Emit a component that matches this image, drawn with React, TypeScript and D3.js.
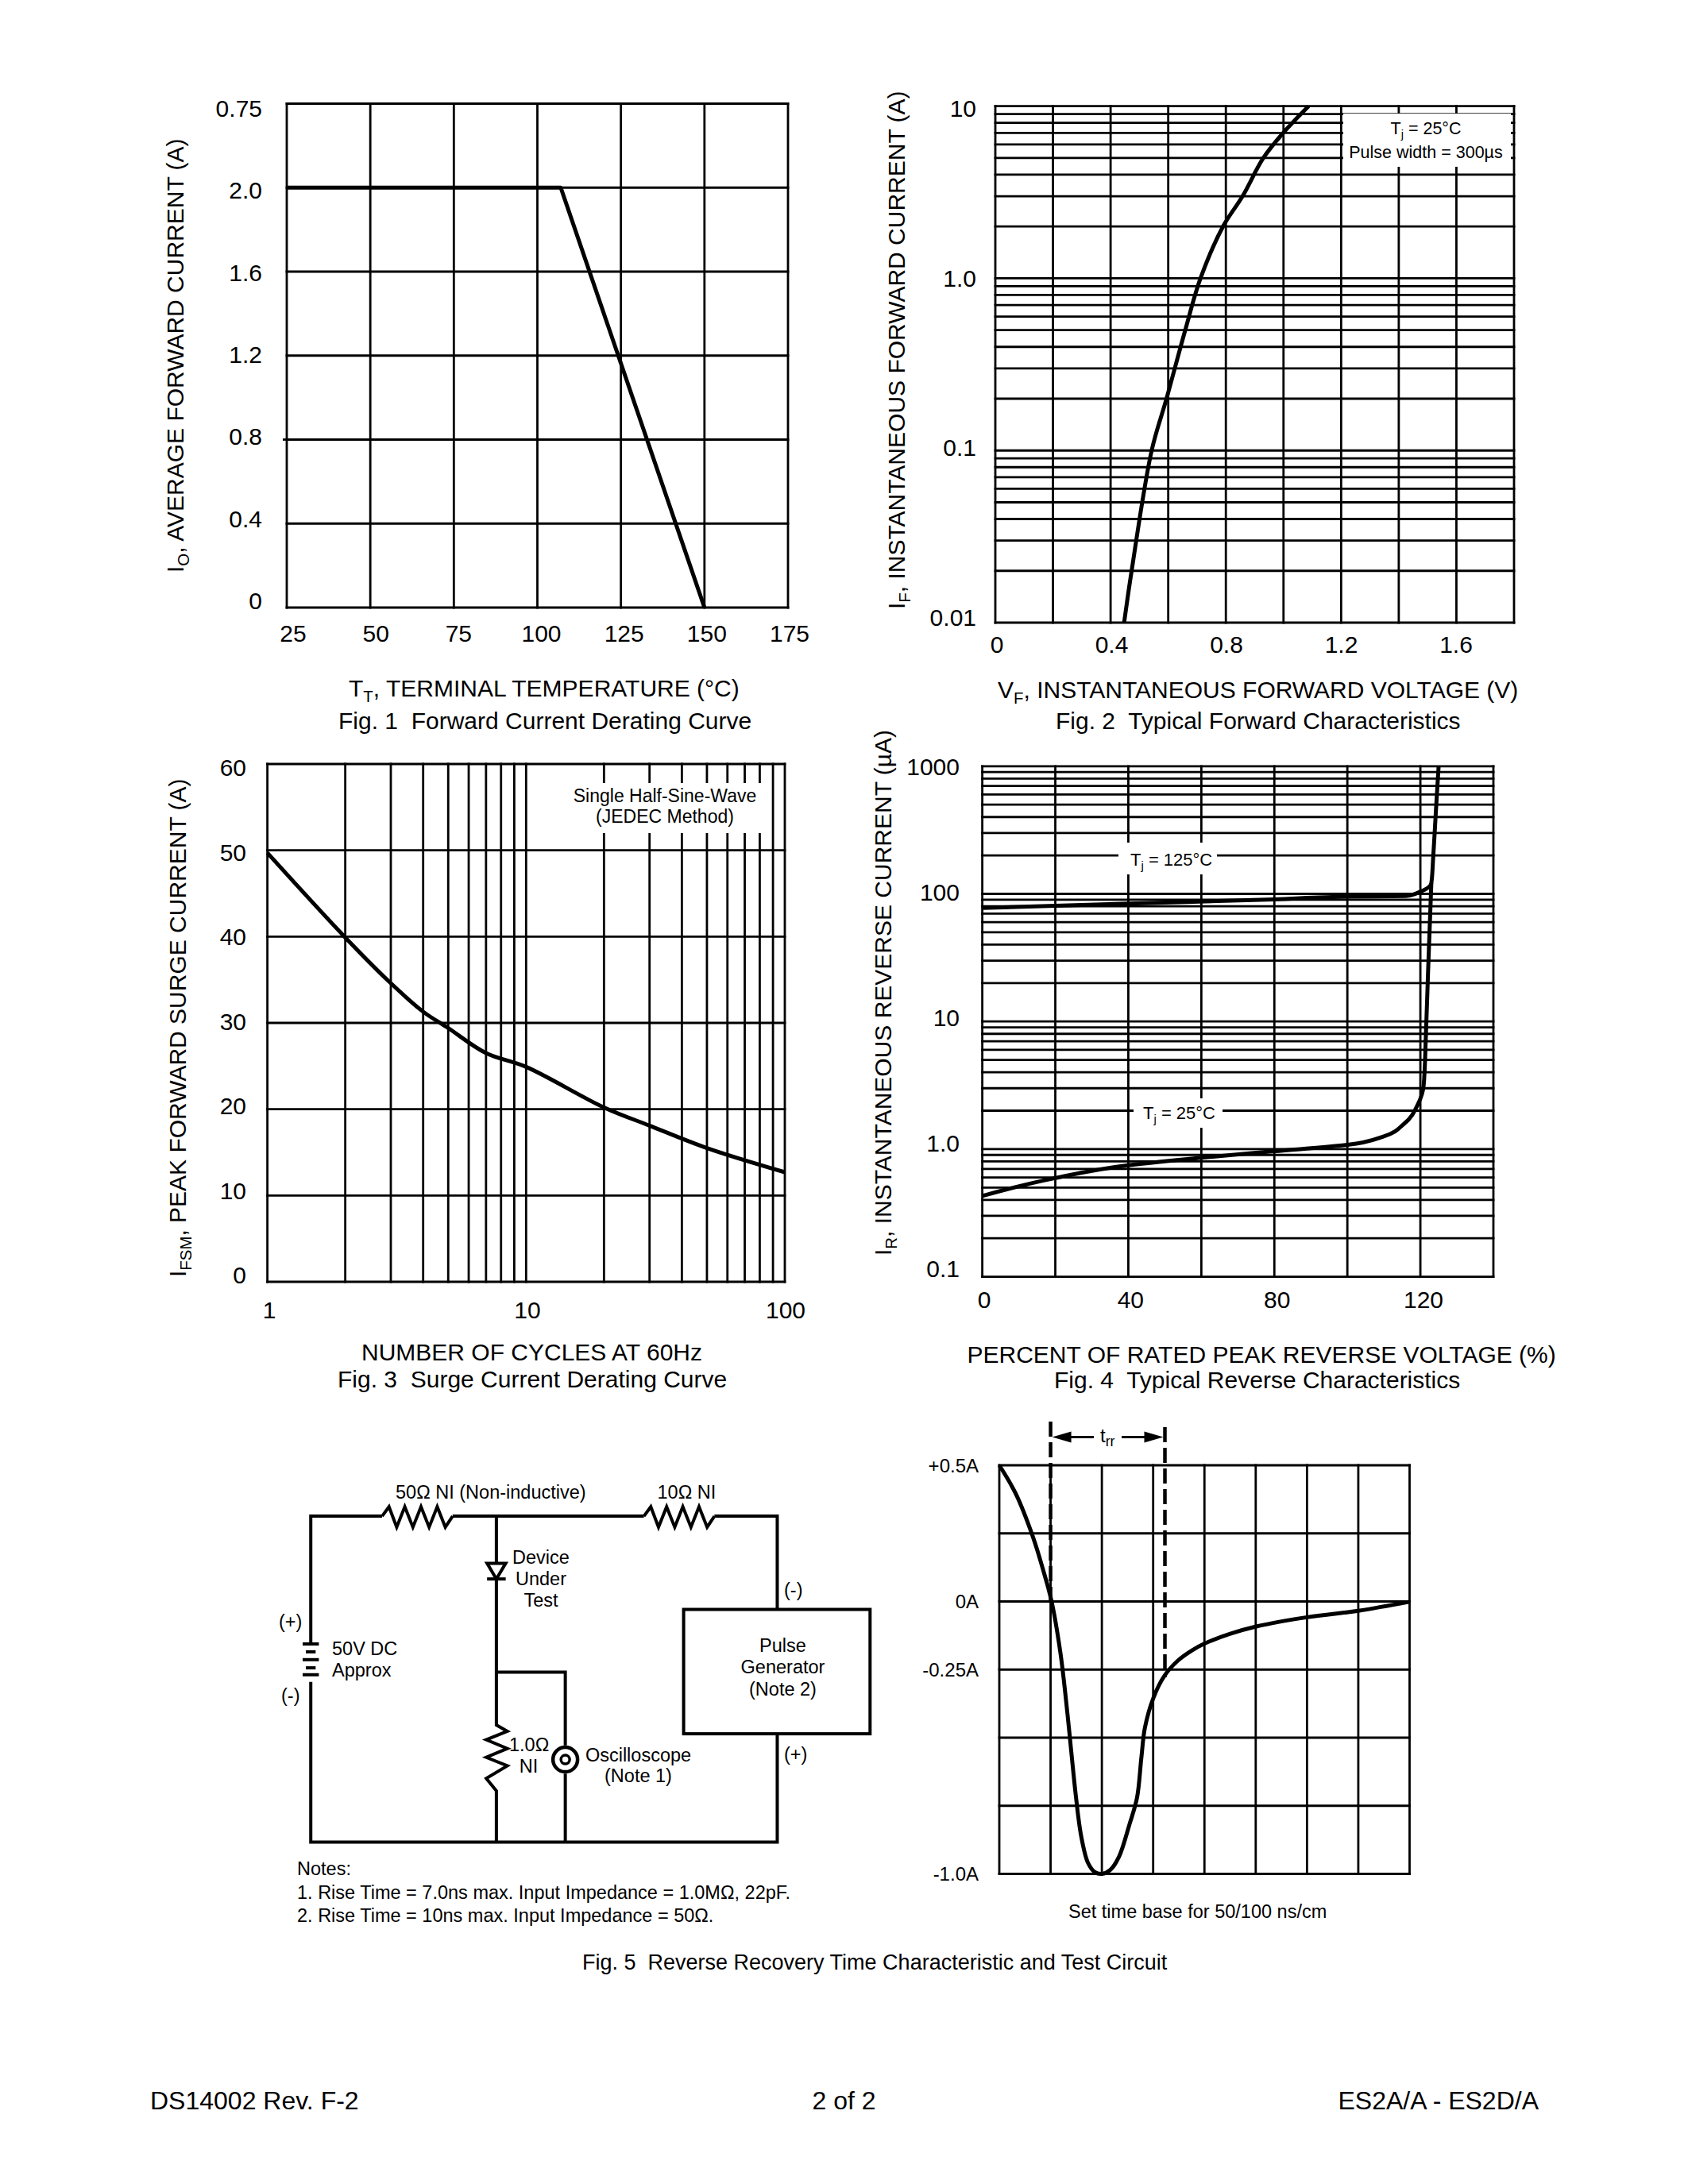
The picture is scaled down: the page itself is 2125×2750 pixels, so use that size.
import React from "react";
import * as d3 from "d3";

const FONT = "'Liberation Sans', Arial, sans-serif";
const INK = "#000";

// Fig. 1
const fig1Temp = [25, 50, 75, 100, 125, 150, 175];
const fig1Grid = [0, 0.4, 0.8, 1.2, 1.6, 2.0, 2.4];
const fig1YLabels = ["0.75", "2.0", "1.6", "1.2", "0.8", "0.4", "0"];
const fig1CurveT = [25, 107, 150];
const fig1CurveI = [2.0, 2.0, 0];

// Fig. 2
const fig2VGrid = [0, 0.2, 0.4, 0.6, 0.8, 1.0, 1.2, 1.4, 1.6, 1.8];
const fig2XLabels = ["0", "0.4", "0.8", "1.2", "1.6"];
const fig2YLabels = ["10", "1.0", "0.1", "0.01"];
const fig2CurveV = [0.447, 0.473, 0.5425, 0.594, 0.659, 0.712, 0.79, 0.858, 0.93, 0.999, 1.087];
const fig2CurveI = [0.01, 0.02, 0.1, 0.2, 0.5, 1, 2, 3, 5, 7, 10];

// Fig. 3
const fig3Grid = [0, 10, 20, 30, 40, 50, 60];
const fig3YLabels = ["60", "50", "40", "30", "20", "10", "0"];
const fig3XLabels = ["1", "10", "100"];
const fig3CurveN = [1, 2, 3, 4, 5, 7, 10, 20, 30, 50, 100];
const fig3CurveI = [49.7, 39.9, 34.6, 31.3, 29.4, 26.5, 24.9, 20.2, 18.1, 15.5, 12.7];

// Fig. 4
const fig4PctGrid = [0, 20, 40, 60, 80, 100, 120, 140];
const fig4XLabels = ["0", "40", "80", "120"];
const fig4YLabels = ["1000", "100", "10", "1.0", "0.1"];
const fig4HotPct = [0, 40, 80, 100, 116, 120, 123, 123.5, 124.2, 125];
const fig4HotI = [77.6, 84, 90.5, 95, 96, 104, 121, 190, 420, 1000];
const fig4ColdPct = [0, 20, 40, 60, 80, 100, 110, 115.6, 119.3, 120.9, 121.5, 122.1, 123];
const fig4ColdI = [0.43, 0.593, 0.747, 0.857, 0.962, 1.08, 1.26, 1.585, 2.24, 3.16, 7.6, 24.2, 121];

// Fig. 5 waveform
const fig5Div = [0, 1, 2, 3, 4, 5, 6, 7, 8];
const fig5Amp = [-1, -0.75, -0.5, -0.25, 0, 0.25, 0.5];
const fig5YLabels = ["+0.5A", "0A", "-0.25A", "-1.0A"];
const fig5YValues = [0.5, 0, -0.25, -1];
const fig5CurveT = [0, 0.32, 0.658, 0.859, 1.02, 1.195, 1.33, 1.396, 1.497, 1.597, 1.73, 1.866, 2, 2.166, 2.336, 2.537, 2.685, 2.77, 2.84, 3.007, 3.22, 3.477, 3.745, 4.01, 4.48, 5.01, 6, 7, 8];
const fig5CurveA = [0.5, 0.396, 0.236, 0.113, 0, -0.193, -0.414, -0.537, -0.721, -0.862, -0.96, -0.994, -1, -0.985, -0.936, -0.819, -0.721, -0.574, -0.463, -0.353, -0.273, -0.218, -0.181, -0.154, -0.12, -0.092, -0.058, -0.034, -0.001];

const GRID_W = 2.8;
const CURVE_W = 5;

function T({ x, y, size = 30, anchor = "start", children, rotate }: any) {
  return (
    <text
      x={x}
      y={y}
      fontSize={size}
      textAnchor={anchor}
      fontFamily={FONT}
      fill={INK}
      transform={rotate ? `rotate(-90 ${x} ${y})` : undefined}
      xmlSpace="preserve"
    >
      {children}
    </text>
  );
}

function Sub({ base, sub, rest, size = 30, drop = 7 }: any) {
  return (
    <>
      {base}
      <tspan dy={drop} fontSize={size * 0.68}>{sub}</tspan>
      <tspan dy={-drop}>{rest}</tspan>
    </>
  );
}

function Grid({ x, y, xv, yv }: any) {
  const [x0, x1] = x.range();
  const [y0, y1] = y.range();
  return (
    <g stroke={INK} strokeWidth={GRID_W} fill="none">
      {xv.map((v: number, i: number) => (
        <line key={`x${i}`} x1={x(v)} x2={x(v)} y1={y0 + GRID_W / 2} y2={y1 - GRID_W / 2} />
      ))}
      {yv.map((v: number, i: number) => (
        <line key={`y${i}`} x1={x0 - GRID_W / 2} x2={x1 + GRID_W / 2} y1={y(v)} y2={y(v)} />
      ))}
    </g>
  );
}

function Curve({ xs, ys, x, y, curve = d3.curveMonotoneX, width = CURVE_W }: any) {
  const pts = xs.map((v: number, i: number) => [x(v), y(ys[i])]);
  const d = d3.line().curve(curve)(pts) as string;
  return <path d={d} fill="none" stroke={INK} strokeWidth={width} strokeLinejoin="round" />;
}

// Labels of these figures were set by hand on their own even pitch, so each run gets a scale.
function spread(labels: string[], a: number, b: number) {
  const s = d3.scaleLinear().domain([0, labels.length - 1]).range([a, b]);
  return labels.map((l, i) => ({ l, p: s(i) }));
}

function Fig1() {
  const x = d3.scaleLinear().domain([25, 175]).range([361, 992]);
  const y = d3.scaleLinear().domain([0, 2.4]).range([765, 130.5]);
  return (
    <g>
      <Grid x={x} y={y} xv={fig1Temp} yv={fig1Grid} />
      <line x1={356} x2={361} y1={y(0.8)} y2={y(0.8)} stroke={INK} strokeWidth={GRID_W} />
      <Curve xs={fig1CurveT} ys={fig1CurveI} x={x} y={y} curve={d3.curveLinear} />
      {spread(fig1YLabels, 147, 767).map((t) => (
        <T key={t.l} x={330} y={t.p} anchor="end">{t.l}</T>
      ))}
      {spread(fig1Temp.map(String), 369, 994).map((t) => (
        <T key={t.l} x={t.p} y={808} anchor="middle">{t.l}</T>
      ))}
      <T x={439} y={877}><Sub base="T" sub="T" rest=", TERMINAL TEMPERATURE (°C)" /></T>
      <T x={426} y={918}>{"Fig. 1  Forward Current Derating Curve"}</T>
      <T x={231} y={721} rotate><Sub base="I" sub="O" rest=", AVERAGE FORWARD CURRENT (A)" /></T>
    </g>
  );
}

function Fig2() {
  const x = d3.scaleLinear().domain([0, 1.8]).range([1253, 1906]);
  const y = d3.scaleLog().domain([0.01, 10]).range([784, 133.7]);
  return (
    <g>
      <Grid x={x} y={y} xv={fig2VGrid} yv={y.ticks()} />
      <rect x={1691} y={143} width={211} height={67} fill="#fff" />
      <Curve xs={fig2CurveI} ys={fig2CurveV} x={y} y={x} curve={d3.curveMonotoneX} width={0} />
      <path
        d={d3.line().curve(d3.curveCatmullRom)(fig2CurveV.map((v, i) => [x(v), y(fig2CurveI[i])] as [number, number])) as string}
        fill="none" stroke={INK} strokeWidth={CURVE_W}
      />
      <T x={1795} y={169} size={21.5} anchor="middle"><Sub base="T" sub="j" rest=" = 25°C" size={21.5} drop={5} /></T>
      <T x={1795} y={199} size={21.5} anchor="middle">Pulse width = 300µs</T>
      {spread(fig2YLabels, 147, 788).map((t) => (
        <T key={t.l} x={1229} y={t.p} anchor="end">{t.l}</T>
      ))}
      {spread(fig2XLabels, 1255, 1833).map((t) => (
        <T key={t.l} x={t.p} y={821.5} anchor="middle">{t.l}</T>
      ))}
      <T x={1256} y={879}><Sub base="V" sub="F" rest=", INSTANTANEOUS FORWARD VOLTAGE (V)" /></T>
      <T x={1329} y={918}>{"Fig. 2  Typical Forward Characteristics"}</T>
      <T x={1139} y={767} rotate><Sub base="I" sub="F" rest=", INSTANTANEOUS FORWARD CURRENT (A)" /></T>
    </g>
  );
}

function Fig3() {
  const x = d3.scaleLog().domain([1, 100]).range([336.6, 988]);
  const y = d3.scaleLinear().domain([0, 60]).range([1614, 962]);
  return (
    <g>
      <Grid x={x} y={y} xv={x.ticks()} yv={fig3Grid} />
      <rect x={713} y={986} width={247} height={63} fill="#fff" />
      <path
        d={d3.line().curve(d3.curveCatmullRom)(fig3CurveN.map((v, i) => [x(v), y(fig3CurveI[i])] as [number, number])) as string}
        fill="none" stroke={INK} strokeWidth={CURVE_W}
      />
      <T x={837} y={1010} size={23} anchor="middle">Single Half-Sine-Wave</T>
      <T x={837} y={1036} size={23} anchor="middle">(JEDEC Method)</T>
      {spread(fig3YLabels, 977, 1616).map((t) => (
        <T key={t.l} x={310} y={t.p} anchor="end">{t.l}</T>
      ))}
      {spread(fig3XLabels, 339, 989).map((t) => (
        <T key={t.l} x={t.p} y={1659.5} anchor="middle">{t.l}</T>
      ))}
      <T x={455} y={1713}>NUMBER OF CYCLES AT 60Hz</T>
      <T x={425} y={1747}>{"Fig. 3  Surge Current Derating Curve"}</T>
      <T x={234} y={1608} rotate><Sub base="I" sub="FSM" rest=", PEAK FORWARD SURGE CURRENT (A)" /></T>
    </g>
  );
}

function Fig4() {
  const x = d3.scaleLinear().domain([0, 140]).range([1236.6, 1880]);
  const y = d3.scaleLog().domain([0.1, 1000]).range([1607.6, 964.8]);
  return (
    <g>
      <Grid x={x} y={y} xv={fig4PctGrid} yv={y.ticks()} />
      <rect x={1408} y={1061} width={124} height={40} fill="#fff" />
      <rect x={1427} y={1383} width={112} height={37} fill="#fff" />
      <path
        d={d3.line().curve(d3.curveMonotoneY)(fig4HotPct.map((v, i) => [x(v), y(fig4HotI[i])] as [number, number])) as string}
        fill="none" stroke={INK} strokeWidth={CURVE_W}
      />
      <path
        d={d3.line().curve(d3.curveMonotoneY)(fig4ColdPct.map((v, i) => [x(v), y(fig4ColdI[i])] as [number, number])) as string}
        fill="none" stroke={INK} strokeWidth={CURVE_W}
      />
      <T x={1423} y={1090} size={22}><Sub base="T" sub="j" rest=" = 125°C" size={22} drop={5} /></T>
      <T x={1439} y={1409} size={22}><Sub base="T" sub="j" rest=" = 25°C" size={22} drop={5} /></T>
      {spread(fig4YLabels, 975.5, 1607.6).map((t) => (
        <T key={t.l} x={1208} y={t.p} anchor="end">{t.l}</T>
      ))}
      {spread(fig4XLabels, 1239, 1792).map((t) => (
        <T key={t.l} x={t.p} y={1646.7} anchor="middle">{t.l}</T>
      ))}
      <T x={1217.5} y={1716}>PERCENT OF RATED PEAK REVERSE VOLTAGE (%)</T>
      <T x={1327} y={1748}>{"Fig. 4  Typical Reverse Characteristics"}</T>
      <T x={1122} y={1581} rotate><Sub base="I" sub="R" rest=", INSTANTANEOUS REVERSE CURRENT (µA)" /></T>
    </g>
  );
}

function Wave() {
  const x = d3.scaleLinear().domain([0, 8]).range([1258, 1774.5]);
  const y = d3.scaleLinear().domain([-1, 0.5]).range([2359.5, 1845]);
  const dashX = x(1);
  const dashX2 = 1466.5;
  const arrowY = 1809.5;
  return (
    <g>
      <Grid x={x} y={y} xv={fig5Div} yv={fig5Amp} />
      <path
        d={d3.line().curve(d3.curveCatmullRom)(fig5CurveT.map((v, i) => [x(v), y(fig5CurveA[i])] as [number, number])) as string}
        fill="none" stroke={INK} strokeWidth={CURVE_W}
      />
      <line x1={dashX} x2={dashX} y1={1790} y2={2024} stroke={INK} strokeWidth={4.5} strokeDasharray="19 7" />
      <line x1={dashX2} x2={dashX2} y1={1797} y2={2112} stroke={INK} strokeWidth={4.5} strokeDasharray="19 7" />
      <line x1={1345} x2={1377} y1={arrowY} y2={arrowY} stroke={INK} strokeWidth={3} />
      <line x1={1412} x2={1445} y1={arrowY} y2={arrowY} stroke={INK} strokeWidth={3} />
      <path d={`M${dashX + 2},${arrowY} L${dashX + 26},${arrowY - 7} L${dashX + 26},${arrowY + 7}Z`} fill={INK} />
      <path d={`M${dashX2 - 2},${arrowY} L${dashX2 - 26},${arrowY - 7} L${dashX2 - 26},${arrowY + 7}Z`} fill={INK} />
      <T x={1385} y={1816} size={24}><Sub base="t" sub="rr" rest="" size={26} drop={5} /></T>
      {fig5YLabels.map((l, i) => (
        <T key={l} x={1232} y={y(fig5YValues[i]) + 8.5} size={24} anchor="end">{l}</T>
      ))}
      <T x={1345} y={2415} size={23.5}>Set time base for 50/100 ns/cm</T>
    </g>
  );
}

function Circuit() {
  // Drawing grid of the schematic, mapped onto the page.
  const cx = d3.scaleLinear().domain([0, 800]).range([330, 1130]);
  const cy = d3.scaleLinear().domain([0, 620]).range([1830, 2450]);
  const X = (z: number) => 330 + z / 1.96;
  const Y = (z: number) => 1830 + z / 2.529;
  void cx; void cy;
  const pl = (pts: number[][]) =>
    d3.line()(pts.map(([a, b]) => [X(a), Y(b)] as [number, number])) as string;
  const s = { fill: "none", stroke: INK, strokeWidth: 4 };
  const top = 200, bot = 1238;
  const zigH = (a: number) => [
    [a, top], [a + 17, 170], [a + 36, 235], [a + 56, 170], [a + 76, 235],
    [a + 96, 170], [a + 116, 235], [a + 136, 170], [a + 156, 235], [a + 174, top],
  ];
  return (
    <g>
      <path {...s} d={pl([[120, 605], [120, top], [296, top]])} />
      <path {...s} d={pl(zigH(296))} />
      <path {...s} d={pl([[470, top], [942, top]])} />
      <path {...s} d={pl(zigH(942))} />
      <path {...s} d={pl([[1116, top], [1271, top], [1271, 497]])} />
      <path {...s} d={pl([[1271, 893], [1271, bot], [120, bot], [120, 728]])} />
      <path {...s} d={pl([[578, top], [578, 865], [605, 885], [553, 912], [605, 940], [553, 968], [605, 995], [553, 1035], [578, 1075], [578, bot]])} />
      <path {...s} d={pl([[578, 697], [748, 697], [748, 930]])} />
      <path {...s} d={pl([[748, 1020], [748, bot]])} />
      <path d={pl([[578, 400], [555, 350], [601, 350]]) + "Z"} fill="#fff" stroke={INK} strokeWidth={4} />
      <path {...s} d={pl([[555, 400], [601, 400]])} />
      <circle cx={X(748)} cy={Y(975)} r={15.5} fill="#fff" stroke={INK} strokeWidth={4.5} />
      <circle cx={X(748)} cy={Y(975)} r={5.5} fill="#fff" stroke={INK} strokeWidth={3.5} />
      {[[100, 140, 607], [108, 132, 632], [100, 140, 657], [108, 132, 683], [100, 140, 705]].map(([a, b, c], i) => (
        <path key={i} {...s} d={pl([[a, c], [b, c]])} />
      ))}
      <rect x={X(1040)} y={Y(497)} width={X(1500) - X(1040)} height={Y(893) - Y(497)} fill="#fff" stroke={INK} strokeWidth={4} />
      <T x={498} y={1886.5} size={23.5}>50Ω NI (Non-inductive)</T>
      <T x={827.5} y={1886.5} size={23.5}>10Ω NI</T>
      <T x={681} y={1969} size={23.5} anchor="middle">Device</T>
      <T x={681} y={1996} size={23.5} anchor="middle">Under</T>
      <T x={681} y={2022.5} size={23.5} anchor="middle">Test</T>
      <T x={351} y={2049.5} size={23.5}>(+)</T>
      <T x={354} y={2142.5} size={23.5}>(-)</T>
      <T x={418} y={2084} size={23.5}>50V DC</T>
      <T x={418} y={2110.5} size={23.5}>Approx</T>
      <T x={987} y={2010} size={23.5}>(-)</T>
      <T x={987} y={2216.5} size={23.5}>(+)</T>
      <T x={985.5} y={2080} size={23.5} anchor="middle">Pulse</T>
      <T x={985.5} y={2107} size={23.5} anchor="middle">Generator</T>
      <T x={985.5} y={2134.5} size={23.5} anchor="middle">(Note 2)</T>
      <T x={641} y={2204.5} size={23.5}>1.0Ω</T>
      <T x={665.5} y={2232} size={23.5} anchor="middle">NI</T>
      <T x={803.5} y={2218} size={23.5} anchor="middle">Oscilloscope</T>
      <T x={803.5} y={2244} size={23.5} anchor="middle">(Note 1)</T>
      <T x={374} y={2360.5} size={23.5}>Notes:</T>
      <T x={374} y={2390.5} size={23.5}>1. Rise Time = 7.0ns max. Input Impedance = 1.0MΩ, 22pF.</T>
      <T x={374} y={2420} size={23.5}>2. Rise Time = 10ns max. Input Impedance = 50Ω.</T>
    </g>
  );
}

export default function App() {
  return (
    <svg
      width={2125}
      height={2750}
      viewBox="0 0 2125 2750"
      style={{ position: "absolute", left: 0, top: 0, display: "block", background: "#fff" }}
    >
      <Fig1 />
      <Fig2 />
      <Fig3 />
      <Fig4 />
      <Circuit />
      <Wave />
      <T x={733} y={2480} size={27}>Fig. 5  Reverse Recovery Time Characteristic and Test Circuit</T>
      <T x={189} y={2656} size={32}>DS14002 Rev. F-2</T>
      <T x={1062.5} y={2656} size={32} anchor="middle">2 of 2</T>
      <T x={1937} y={2656} size={32} anchor="end">ES2A/A - ES2D/A</T>
    </svg>
  );
}
